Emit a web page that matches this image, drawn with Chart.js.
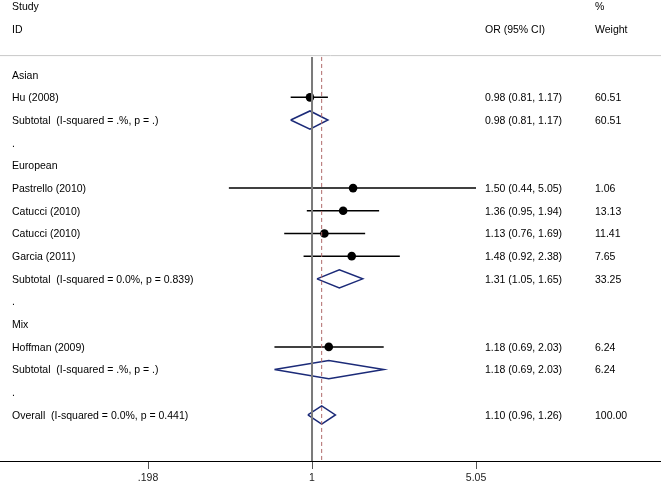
<!DOCTYPE html>
<html>
<head>
<meta charset="utf-8">
<script src="https://cdn.jsdelivr.net/npm/chart.js@4.4.1/dist/chart.umd.min.js"></script>
<style>
  html, body { margin: 0; padding: 0; background: #fff; }
  #wrap { width: 661px; height: 485px; position: relative; }
</style>
</head>
<body>
<div id="wrap"><canvas id="forest"></canvas></div>
<script>
// rows below the header
const rowLabels = [
    'Asian', 'Hu (2008)', 'Subtotal  (I-squared = .%, p = .)', '.',
    'European', 'Pastrello (2010)', 'Catucci (2010)', 'Catucci (2010)', 'Garcia (2011)',
    'Subtotal  (I-squared = 0.0%, p = 0.839)', '.',
    'Mix', 'Hoffman (2009)', 'Subtotal  (I-squared = .%, p = .)', '.',
    'Overall  (I-squared = 0.0%, p = 0.441)'
];
const rowKind = ['head','study','sub','gap','head','study','study','study','study','sub','gap','head','study','sub','gap','overall'];
const orValue = [null, 0.98, 0.98, null, null, 1.50, 1.36, 1.13, 1.48, 1.31, null, null, 1.18, 1.18, null, 1.10];
const ciLow   = [null, 0.81, 0.81, null, null, 0.44, 0.95, 0.76, 0.92, 1.05, null, null, 0.69, 0.69, null, 0.96];
const ciHigh  = [null, 1.17, 1.17, null, null, 5.05, 1.94, 1.69, 2.38, 1.65, null, null, 2.03, 2.03, null, 1.26];
const weights = [null, 60.51, 60.51, null, null, 1.06, 13.13, 11.41, 7.65, 33.25, null, null, 6.24, 6.24, null, 100.00];

const tickValues = [0.198, 1, 5.05];
const tickLabels = ['.198', '1', '5.05'];

const firstRow = 3;      // Study = 0, ID = 1, separator ~2
const sepRow = 2.16;
const yMin = -0.291, yMax = 20.03;
const xMin = 0.04591, xMax = 31.38;
const overallOR = orValue[rowKind.indexOf('overall')];

const navy = '#1b2a78';
const font = '"Liberation Sans", Arial, sans-serif';

function lineSet(points, color, width, dash) {
    return {
        data: points, showLine: true, borderColor: color, borderWidth: width,
        borderDash: dash || [], pointRadius: 0, fill: false
    };
}

const datasets = [];
datasets.push(lineSet([{x: xMin, y: sepRow}, {x: xMax, y: sepRow}], '#c8c8c8', 1));
datasets.push(lineSet([{x: 1, y: sepRow + 0.06}, {x: 1, y: yMax}], '#7a7a7a', 2));
datasets.push(lineSet([{x: overallOR, y: sepRow + 0.06}, {x: overallOR, y: yMax}], '#b06a6a', 1, [4, 3]));

const dots = [];
rowKind.forEach((kind, i) => {
    const row = firstRow + i;
    if (kind === 'study') {
        datasets.push(lineSet([{x: ciLow[i], y: row}, {x: ciHigh[i], y: row}], '#000', 1.5));
        dots.push({x: orValue[i], y: row});
    } else if (kind === 'sub' || kind === 'overall') {
        const h = 0.4;
        datasets.push(lineSet([
            {x: ciLow[i], y: row}, {x: orValue[i], y: row - h},
            {x: ciHigh[i], y: row}, {x: orValue[i], y: row + h},
            {x: ciLow[i], y: row}
        ], navy, 1.5));
    }
});
datasets.push({data: dots, pointRadius: 4.3, pointBackgroundColor: '#000', pointBorderColor: '#000', borderWidth: 0, showLine: false});

const textPlugin = {
    id: 'forestText',
    afterDatasetsDraw(chart) {
        const c = chart.ctx;
        const y = chart.scales.y;
        const at = r => y.getPixelForValue(r) + 1;
        c.save();
        c.font = '10.5px ' + font;
        c.fillStyle = '#000';
        c.textBaseline = 'middle';
        c.textAlign = 'left';
        c.fillText('Study', 12, at(0));
        c.fillText('ID', 12, at(1));
        c.fillText('%', 595, at(0));
        c.fillText('OR (95% CI)', 485, at(1));
        c.fillText('Weight', 595, at(1));
        rowLabels.forEach((label, i) => {
            const py = at(firstRow + i);
            c.fillText(label, 12, py);
            if (orValue[i] !== null) {
                c.fillText(orValue[i].toFixed(2) + ' (' + ciLow[i].toFixed(2) + ', ' + ciHigh[i].toFixed(2) + ')', 485, py);
                c.fillText(weights[i].toFixed(2), 595, py);
            }
        });
        c.restore();
    }
};

new Chart(document.getElementById('forest').getContext('2d'), {
    type: 'scatter',
    data: { datasets: datasets },
    options: {
        responsive: true,
        maintainAspectRatio: false,
        animation: false,
        layout: { padding: 0, autoPadding: false },
        plugins: { legend: { display: false }, tooltip: { enabled: false } },
        scales: {
            x: {
                type: 'logarithmic',
                min: xMin,
                max: xMax,
                afterBuildTicks(scale) {
                    scale.ticks = tickValues.map(v => ({ value: v }));
                },
                afterFit(scale) { scale.height = 24; },
                ticks: {
                    autoSkip: false,
                    maxRotation: 0,
                    padding: 3,
                    color: '#222',
                    font: { family: font, size: 10.5 },
                    callback: (v, i) => tickLabels[i]
                },
                grid: { drawOnChartArea: false, drawTicks: true, tickLength: 8, color: '#555' },
                border: { display: true, color: '#000', width: 1 }
            },
            y: {
                display: false,
                reverse: true,
                min: yMin,
                max: yMax
            }
        }
    },
    plugins: [textPlugin]
});
</script>
</body>
</html>
